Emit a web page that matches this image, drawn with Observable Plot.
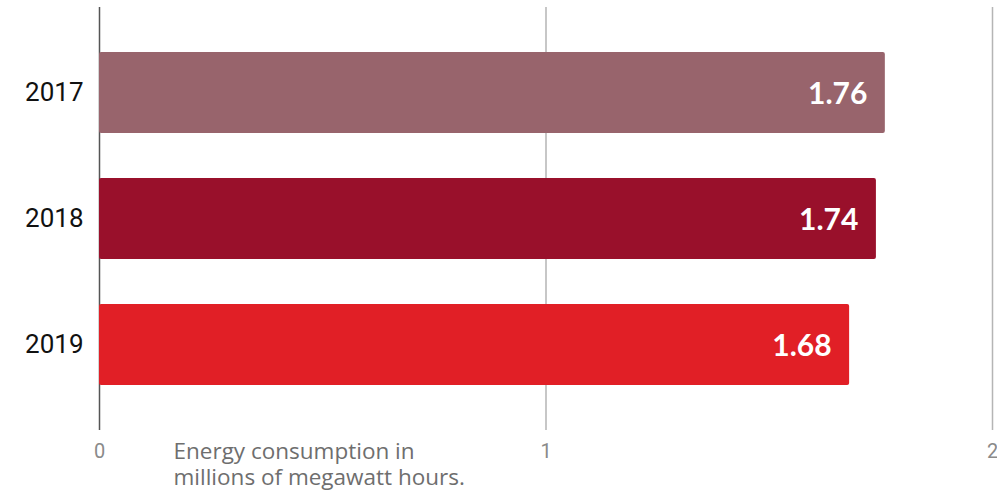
<!DOCTYPE html>
<html>
<head>
<meta charset="utf-8">
<script src="https://cdn.jsdelivr.net/npm/d3@7"></script>
<script src="https://cdn.jsdelivr.net/npm/@observablehq/plot@0.6"></script>
<style>
  html, body { margin: 0; padding: 0; background: #fff; overflow: hidden; }
  #chart svg { display: block; }
</style>
</head>
<body>
<div id="chart"></div>
<script>
const years = ["2017", "2018", "2019"];
const values = [1.76, 1.74, 1.68];
const barColors = ["#98646c", "#99102b", "#e11f26"];
const xTicks = [0, 1, 2];
const caption = "Energy consumption in\nmillions of megawatt hours.";

const data = years.map((y, i) => ({year: y, value: values[i]}));

const chart = Plot.plot({
  width: 997,
  height: 495,
  marginLeft: 99,
  marginRight: 5,
  marginTop: 7,
  marginBottom: 65,
  style: {background: "#fff", overflow: "visible", fontFamily: "Roboto"},
  x: {domain: [0, 2], ticks: xTicks, label: null},
  y: {domain: years, padding: 0.357, label: null},
  color: {domain: years, range: barColors},
  marks: [
    Plot.ruleX(xTicks.filter(t => t !== 0), {stroke: "#b5b5b5", strokeWidth: 1.5}),
    Plot.ruleX([0], {stroke: "#555", strokeWidth: 1.5}),
    Plot.barX(data, {x: "value", y: "year", fill: "year", rx: 2}),
    Plot.text(data, {
      x: "value", y: "year", text: d => d.value.toFixed(2),
      textAnchor: "end", dx: -18, dy: 1, fill: "#fff",
      fontSize: 30, fontWeight: "bold", fontFamily: "Lato"
    }),
    Plot.axisY({tickSize: 0, tickPadding: 16, fontSize: 26, fontFamily: "Roboto", color: "#111", label: null}),
    Plot.axisX({ticks: xTicks, tickSize: 0, tickPadding: 13, fontSize: 20, fontFamily: "Roboto", color: "#8a8a8a", label: null, tickFormat: d3.format("d")}),
    Plot.text([caption], {
      frameAnchor: "bottom-left", textAnchor: "start", lineAnchor: "top",
      dx: 74, dy: 10, fontSize: 22.5, fontFamily: "Open Sans", fill: "#6e6e6e",
      lineHeight: 1.15
    })
  ]
});
document.getElementById("chart").appendChild(chart);
</script>
</body>
</html>
